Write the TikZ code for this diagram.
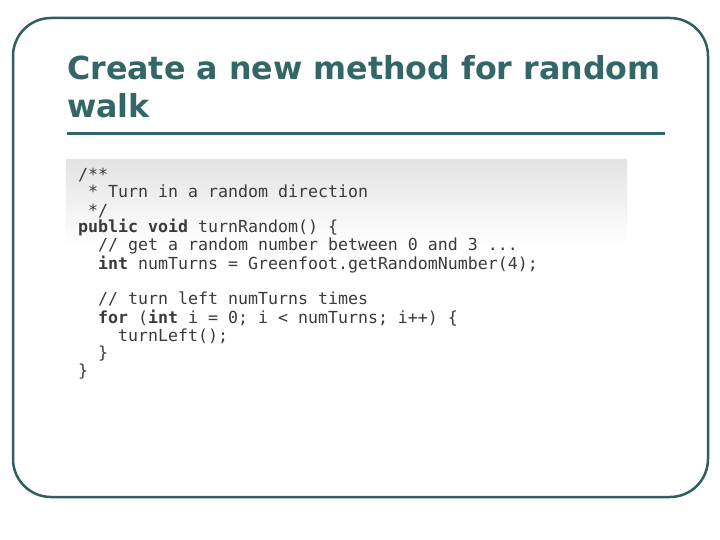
\documentclass[tikz,border=0pt]{standalone}
\usepackage{fontspec}
\setmainfont{DejaVu Sans}
\setmonofont{DejaVu Sans Mono}
\usetikzlibrary{positioning}
\definecolor{frameteal}{HTML}{2F5E5E}
\definecolor{titleteal}{HTML}{336666}
\definecolor{codegray}{HTML}{3A3A3A}
\tikzset{codeline/.style={anchor=base west, inner sep=0pt, text=codegray, font=\ttfamily\fontsize{16.6}{17}\selectfont},
  titleline/.style={anchor=base west, inner sep=0pt, text=titleteal, font=\bfseries\fontsize{31.7}{38}\selectfont}}
\begin{document}
\begin{tikzpicture}[x=1pt,y=-1pt]
\useasboundingbox (0,0) rectangle (720,540);
%the frame
\draw [frameteal, line width=2.5pt, rounded corners=38pt] (13,18) rectangle (708,497);

%the title
\node [titleline] (title) at (67,80) {Create a new method for random};
\node [titleline] (title2) at (67,118) {walk};
\draw [titleteal, line width=3pt] (67,134) -- (665,134);

%the code
\shade [top color=gray!22, bottom color=white] (66,160) rectangle (627,246);
\node [codeline] (l1) at (78,181) {/**};
\node [codeline] (l2) at (78,198) {~* Turn in a random direction};
\node [codeline] (l3) at (78,216) {~*/};
\node [codeline] (l4) at (78,233) {\textbf{public void} turnRandom() \{};
\node [codeline] (l5) at (78,251) {~~// get a random number between 0 and 3 ...};
\node [codeline] (l6) at (78,269) {~~\textbf{int} numTurns = Greenfoot.getRandomNumber(4);};
\node [codeline] (l7) at (78,304) {~~// turn left numTurns times};
\node [codeline] (l8) at (78,323) {~~\textbf{for} (\textbf{int} i = 0; i < numTurns; i++) \{};
\node [codeline] (l9) at (78,341) {~~~~turnLeft();};
\node [codeline] (l10) at (78,358) {~~\}};
\node [codeline] (l11) at (78,376) {\}};
\end{tikzpicture}
\end{document}
